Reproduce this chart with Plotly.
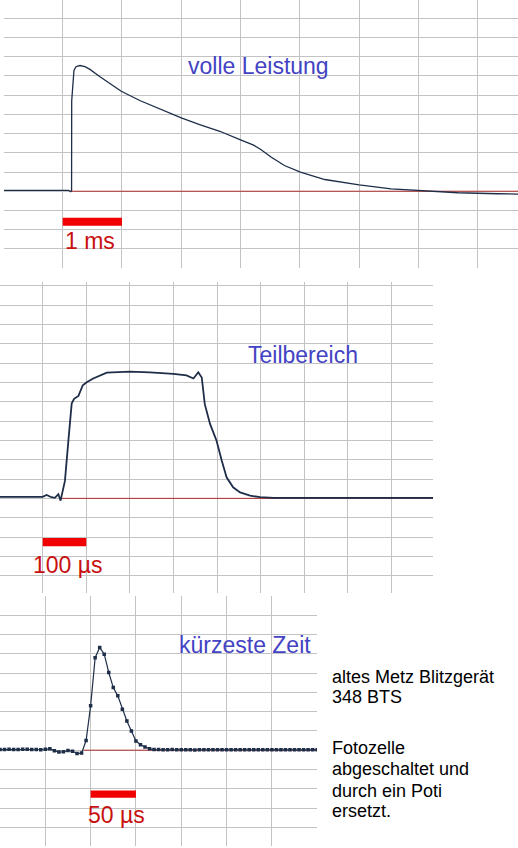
import plotly.graph_objects as go

W, H = 518, 848

# ---------------- data ----------------
# Panel 1 "volle Leistung": time in ms, amplitude in grid divisions
p1_t = [-0.99, 0.10, 0.135, 0.15, 0.152, 0.169, 0.19, 0.224, 0.292, 0.376, 0.46, 0.629,
        0.798, 0.988, 1.30, 1.64, 2.0, 2.31, 2.65, 3.0, 3.21, 3.33, 3.52, 3.74, 4.01,
        4.42, 5.0, 5.54, 6.0, 6.3, 6.67, 7.34, 7.68]
p1_v = [0.04, 0.04, -0.02, 0.04, 4.7, 5.74, 6.28, 6.48, 6.54, 6.48, 6.34, 5.96,
        5.58, 5.2, 4.72, 4.28, 3.82, 3.47, 3.12, 2.67, 2.41, 2.2, 1.77, 1.34, 0.99,
        0.61, 0.33, 0.12, 0.04, -0.04, -0.08, -0.13, -0.15]

# Panel 2 "Teilbereich": time in µs
p2_t = [-98, -60, -20, 0, 9, 20, 28, 36, 41, 46, 51, 59, 66.5, 72, 82, 92, 101, 116,
        147, 200, 246, 300, 330, 346, 357, 365, 372, 384, 399, 411, 422, 437, 453,
        476, 499, 530, 570, 896]
p2_v = [0.08, 0.08, 0.08, 0.08, 0.18, 0.06, 0.03, 0.22, -0.12, 0.4, 0.9, 3.0, 4.9,
        5.15, 5.3, 5.85, 6.0, 6.2, 6.5, 6.55, 6.52, 6.44, 6.36, 6.2, 6.52, 6.25, 4.87,
        3.85, 2.98, 1.95, 1.09, 0.57, 0.31, 0.14, 0.06, 0.03, 0.02, 0.02]

# Panel 3 "kürzeste Zeit": samples every 5 µs
p3_t = [0, 5, 10, 15, 20, 25, 30, 35, 40, 45, 50, 55, 60, 65, 70, 75, 80, 85, 90, 95,
        100, 105, 110, 115, 120, 125, 130, 135, 140, 145, 150, 155, 160, 165, 170, 175,
        180, 185, 190, 195, 200, 205, 210, 215, 220, 225, 230, 235, 240, 245, 250, 255,
        260, 265, 270, 275, 280, 285, 290, 295, 300, 305, 310, 315, 320, 325, 330, 335,
        340, 345, 350]
p3_v = [0.03, 0.03, 0.05, 0.03, 0.03, 0.05, 0.05, 0.03, 0.03, 0.02, 0.05, 0.07, -0.03,
        -0.1, -0.08, -0.02, -0.05, -0.17, -0.15, 0.5, 2.3, 4.8, 5.33, 4.98, 4.03, 3.25,
        2.82, 2.13, 1.52, 1.0, 0.48, 0.28, 0.17, 0.07, 0.03, 0.03, 0.02, 0.02, 0.03,
        0.02, 0.02, 0.02, 0.02, 0.01, 0.02, 0.02, 0.02, 0.02, 0.02, 0.02, 0.02, 0.02,
        0.02, 0.02, 0.02, 0.02, 0.02, 0.02, 0.02, 0.02, 0.02, 0.02, 0.02, 0.02, 0.02,
        0.02, 0.02, 0.02, 0.02, 0.02, 0.02]

# zero reference lines (x start/end)
p1_ref_t = [0.135, 7.68]
p2_ref_t = [40, 896]
p3_ref_t = [92, 350]

# scale bars (x start/end) and labels
scale_bars = [("x", "y", [0, 1], [-1.80, -1.38]),
              ("x2", "y2", [0, 100], [-2.48, -2.05]),
              ("x3", "y3", [100, 150], [-2.47, -2.09])]
scale_labels = [("x", "y", 0.005, -2.6, "1 ms"),
                ("x2", "y2", -27.5, -3.43, "100 µs"),
                ("x3", "y3", 94.9, -3.38, "50 µs")]
titles = [("x", "y", 2.08, 6.5, "volle Leistung"),
          ("x2", "y2", 466.5, 7.4, "Teilbereich"),
          ("x3", "y3", 195, 5.47, "kürzeste Zeit")]
note_lines = ["altes Metz Blitzgerät", "348 BTS", "Fotozelle", "abgeschaltet und",
              "durch ein Poti", "ersetzt."]
note_y_px = [676.5, 697, 748, 769, 790.5, 810.5]

# ---------------- style ----------------
TRACE = "#1e2d48"
REF = "#b03030"
BAR = "#f00000"
RED_TXT = "#c81010"
BLUE_TXT = "#4343c3"
GRID = "#c3c3c3"
FONT = "Liberation Sans, Arial, sans-serif"

fig = go.Figure()

fig.add_trace(go.Scatter(x=p1_ref_t, y=[0, 0], mode="lines",
                         line=dict(color=REF, width=1), xaxis="x", yaxis="y"))
fig.add_trace(go.Scatter(x=p1_t, y=p1_v, mode="lines",
                         line=dict(color=TRACE, width=1.3), xaxis="x", yaxis="y"))

fig.add_trace(go.Scatter(x=p2_ref_t, y=[0, 0], mode="lines",
                         line=dict(color=REF, width=1), xaxis="x2", yaxis="y2"))
fig.add_trace(go.Scatter(x=p2_t, y=p2_v, mode="lines",
                         line=dict(color=TRACE, width=1.8), xaxis="x2", yaxis="y2"))

fig.add_trace(go.Scatter(x=p3_ref_t, y=[0, 0], mode="lines",
                         line=dict(color=REF, width=1), xaxis="x3", yaxis="y3"))
fig.add_trace(go.Scatter(x=p3_t, y=p3_v, mode="lines+markers",
                         line=dict(color=TRACE, width=1.2),
                         marker=dict(color=TRACE, size=3.5, symbol="square"),
                         xaxis="x3", yaxis="y3"))

shapes = []
for xr, yr, xs, ys in scale_bars:
    shapes.append(dict(type="rect", xref=xr, yref=yr, x0=xs[0], x1=xs[1],
                       y0=ys[0], y1=ys[1], fillcolor=BAR, line=dict(width=0)))

annotations = []
for xr, yr, x, y, txt in scale_labels:
    annotations.append(dict(xref=xr, yref=yr, x=x, y=y, text=txt, showarrow=False,
                            xanchor="left", yanchor="middle",
                            font=dict(family=FONT, size=23, color=RED_TXT)))
for xr, yr, x, y, txt in titles:
    annotations.append(dict(xref=xr, yref=yr, x=x, y=y, text=txt, showarrow=False,
                            xanchor="left", yanchor="middle",
                            font=dict(family=FONT, size=23, color=BLUE_TXT)))
for txt, ypx in zip(note_lines, note_y_px):
    annotations.append(dict(xref="paper", yref="paper", x=330 / W, y=1 - ypx / H,
                            text=txt, showarrow=False, xanchor="left", yanchor="middle",
                            font=dict(family=FONT, size=18, color="#000000")))

def ax(domain, rng, dtick, anchor):
    return dict(domain=domain, range=rng, dtick=dtick, tick0=0, showgrid=True,
                gridcolor=GRID, gridwidth=1, zeroline=False, showline=False,
                showticklabels=False, ticks="", anchor=anchor, fixedrange=True)

fig.update_layout(
    width=W, height=H, margin=dict(l=0, r=0, t=0, b=0),
    paper_bgcolor="white", plot_bgcolor="white", showlegend=False,
    hovermode=False,
    xaxis=ax([4 / W, 1.0], [-0.99, 7.68], 1, "y"),
    yaxis=ax([1 - 268.3 / H, 1.0], [-4.01, 9.95], 1, "x"),
    xaxis2=ax([0.0, 433.3 / W], [-98, 896.4], 100, "y2"),
    yaxis2=ax([1 - 593 / H, 1 - 282 / H], [-4.895, 11.19], 1, "x2"),
    xaxis3=ax([0.0, 317 / W], [0, 349.8], 50, "y3"),
    yaxis3=ax([2 / H, 1 - 595.6 / H], [-4.97, 8.02], 1, "x3"),
    shapes=shapes, annotations=annotations,
)

fig.write_html("out.html", config={"displayModeBar": False, "staticPlot": True},
               post_script="document.body.style.margin='0';document.body.style.padding='0';"
                           "document.documentElement.style.overflow='hidden';")
